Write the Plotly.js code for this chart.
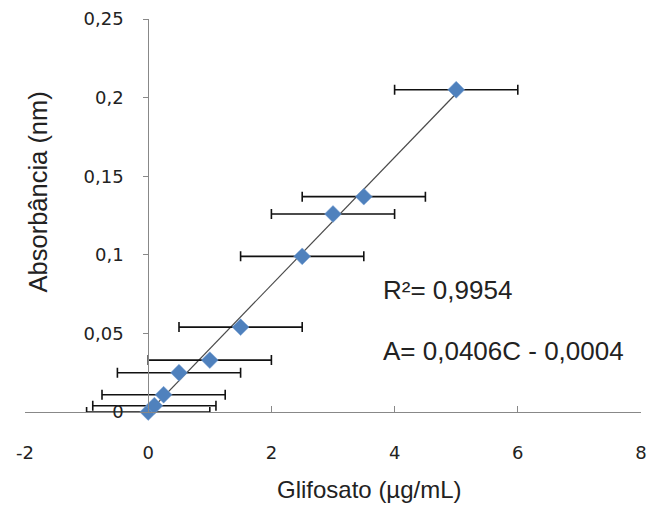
<!DOCTYPE html>
<html>
<head>
<meta charset="utf-8">
<script src="https://cdn.plot.ly/plotly-3.0.1.min.js"></script>
<style>html,body{margin:0;padding:0;background:#fff;}#chart{width:652px;height:508px;}</style>
</head>
<body>
<div id="chart"></div>
<script>
// Data
const concentration = [0, 0.1, 0.25, 0.5, 1, 1.5, 2.5, 3, 3.5, 5];
const absorbance = [0, 0.004, 0.011, 0.025, 0.033, 0.054, 0.099, 0.126, 0.137, 0.205];
const concError = [1, 1, 1, 1, 1, 1, 1, 1, 1, 1];
const fitSlope = 0.0406;
const fitIntercept = -0.0004;
const fitR2 = "0,9954";
const xTicks = [-2, 0, 2, 4, 6, 8];
const xTickText = ['-2', '0', '2', '4', '6', '8'];
const yTicks = [0, 0.05, 0.1, 0.15, 0.2, 0.25];

const xMin = Math.min(...concentration), xMax = Math.max(...concentration);
const fitX = [xMin, xMax];
const fitY = fitX.map(c => fitSlope * c + fitIntercept);

const tickFont = {family: 'DejaVu Sans, Verdana, sans-serif', size: 18, color: '#222'};
const titleFont = {family: 'Liberation Sans, Arial, sans-serif', size: 24, color: '#222'};
const yTitleFont = {family: 'Liberation Sans, Arial, sans-serif', size: 25.5, color: '#222'};
const noteFont = {family: 'Liberation Sans, Arial, sans-serif', size: 26, color: '#222'};

const traces = [
  {
    x: fitX, y: fitY, type: 'scatter', mode: 'lines',
    line: {color: '#4a4a4a', width: 1.2}, hoverinfo: 'skip', showlegend: false, cliponaxis: false
  },
  {
    x: concentration, y: absorbance, type: 'scatter', mode: 'markers',
    marker: {symbol: 'diamond', size: 13, color: '#4f81bd', line: {color: '#7aa3d4', width: 0.5}},
    error_x: {type: 'data', array: concError, visible: true, color: '#111', thickness: 1.6, width: 5},
    showlegend: false, cliponaxis: false
  }
];

const layout = {
  width: 652, height: 508,
  margin: {l: 25, r: 11, t: 19, b: 96, autoexpand: false},
  paper_bgcolor: '#fff', plot_bgcolor: '#fff',
  separators: ',.',
  showlegend: false,
  xaxis: {
    range: [-2, 8], tickvals: xTicks, ticktext: xTickText, ticks: 'inside', ticklen: 6, tickcolor: '#888',
    showline: true, linecolor: '#888', linewidth: 1, showgrid: false, zeroline: false,
    tickfont: tickFont, ticklabelstandoff: 24, domain: [0, 1], fixedrange: true
  },
  yaxis: {
    range: [0, 0.25], tickvals: yTicks, ticks: 'outside', ticklen: 5, tickcolor: '#888',
    showline: true, linecolor: '#888', linewidth: 1, showgrid: false, zeroline: false,
    tickfont: tickFont, ticklabelstandoff: 16, anchor: 'free', position: 0.2, fixedrange: true
  },
  annotations: [
    {text: 'Glifosato (µg/mL)', xref: 'paper', yref: 'paper', x: 0.56, y: -0.197,
     xanchor: 'center', yanchor: 'middle', showarrow: false, font: titleFont},
    {text: 'Absorbância (nm)', xref: 'paper', yref: 'paper', x: 0.021, y: 0.561,
     xanchor: 'center', yanchor: 'middle', textangle: -90, showarrow: false, font: yTitleFont},
    {text: 'R²= ' + fitR2, xref: 'paper', yref: 'paper', x: 0.578, y: 0.31,
     xanchor: 'left', yanchor: 'middle', showarrow: false, font: noteFont},
    {text: 'A= ' + String(fitSlope).replace('.', ',') + 'C - ' + String(Math.abs(fitIntercept)).replace('.', ','),
     xref: 'paper', yref: 'paper', x: 0.578, y: 0.155,
     xanchor: 'left', yanchor: 'middle', showarrow: false, font: noteFont}
  ]
};

Plotly.newPlot('chart', traces, layout, {displayModeBar: false, staticPlot: true});
</script>
</body>
</html>
